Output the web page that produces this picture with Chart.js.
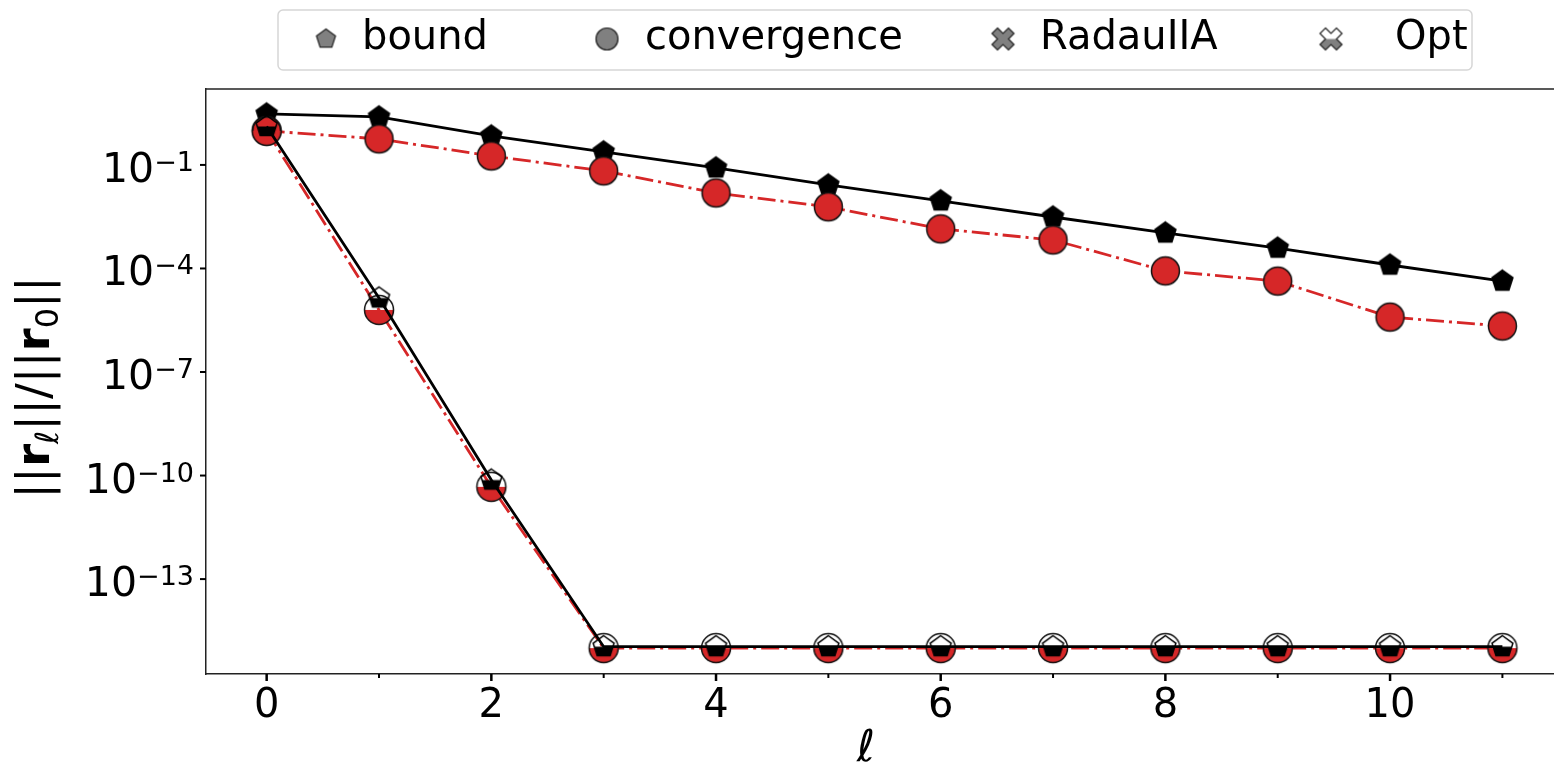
<!DOCTYPE html>
<html lang="en">
<head>
<meta charset="UTF-8">
<title>Residual convergence</title>
<script src="https://cdn.jsdelivr.net/npm/chart.js"></script>
<style>
  html, body { margin: 0; padding: 0; background: #fff; overflow: hidden; }
  canvas { display: block; }
</style>
</head>
<body>
<canvas id="chart" width="1563" height="767"></canvas>
<script>
// iteration index
const ell = [0, 1, 2, 3, 4, 5, 6, 7, 8, 9, 10, 11];

// RadauIIA: bound and measured convergence
const boundRadau = [3.0, 2.46, 0.69, 0.238, 0.082, 0.0263, 0.0091, 0.0031, 0.00107, 3.9e-4, 1.26e-4, 4.3e-5];
const convRadau = [0.97, 0.567, 0.182, 0.067, 0.0154, 0.0061, 0.0014, 6.7e-4, 8.5e-5, 4.3e-5, 3.9e-6, 2.15e-6];

// Opt: bound and measured convergence
const boundOpt = [1.3, 1.4e-5, 7.4e-11, 1.1e-15, 1.1e-15, 1.1e-15, 1.1e-15, 1.1e-15, 1.1e-15, 1.1e-15, 1.1e-15, 1.1e-15];
const convOpt = [0.97, 6.3e-6, 4.7e-11, 1e-15, 1e-15, 1e-15, 1e-15, 1e-15, 1e-15, 1e-15, 1e-15, 1e-15];

const legendNames = ['bound', 'convergence', 'RadauIIA', 'Opt'];
const xTickLabels = ['0', '', '2', '', '4', '', '6', '', '8', '', '10', ''];
const yTickValues = [1e-1, 1e-4, 1e-7, 1e-10, 1e-13];
const yTickExps = ['\u22121', '\u22124', '\u22127', '\u221210', '\u221213'];

const RED = '#d62728';
const GREY = '#808080';

// ---- marker images ----
function markerCanvas(size, paint) {
    const c = document.createElement('canvas');
    c.width = size;
    c.height = size;
    const g = c.getContext('2d');
    g.translate(size / 2, size / 2);
    paint(g);
    return c;
}
function pentagonPath(g, r) {
    g.beginPath();
    for (let i = 0; i < 5; i++) {
        const a = -Math.PI / 2 + i * 2 * Math.PI / 5;
        g.lineTo(r * Math.cos(a), r * Math.sin(a));
    }
    g.closePath();
}
function circlePath(g, r) {
    g.beginPath();
    g.arc(0, 0, r, 0, 2 * Math.PI);
}
function xPath(g, s) {
    const p = [[-1, -2], [0, -1], [1, -2], [2, -1], [1, 0], [2, 1], [1, 2], [0, 1], [-1, 2], [-2, 1], [-1, 0], [-2, -1]];
    g.beginPath();
    p.forEach(([a, b]) => g.lineTo(a * s / 4, b * s / 4));
    g.closePath();
}
function marker(pathFn, r, fill, edge, lw, bottomOnly) {
    return markerCanvas(Math.ceil(2 * r + 2 * lw + 4), g => {
        if (bottomOnly) {
            g.save();
            pathFn(g, r);
            g.clip();
            g.fillStyle = fill;
            g.fillRect(-r - 5, 0, 2 * r + 10, r + 5);
            g.restore();
        } else {
            pathFn(g, r);
            g.fillStyle = fill;
            g.fill();
        }
        pathFn(g, r);
        g.lineWidth = lw;
        g.strokeStyle = edge;
        g.lineJoin = 'miter';
        g.stroke();
    });
}

const pentaFull = marker(pentagonPath, 11, '#000', '#000', 1.5, false);
const pentaHalf = marker(pentagonPath, 11, '#000', '#000', 1.5, true);
const circFull = marker(circlePath, 14, RED, '#111', 1.5, false);
const circHalf = marker(circlePath, 14.5, RED, '#111', 1.5, true);

const legendMarkers = [
    marker(pentagonPath, 10, GREY, '#222', 1.2, false),
    marker(circlePath, 11, GREY, '#222', 1.2, false),
    marker(xPath, 22, GREY, '#222', 1.2, false),
    marker(xPath, 22, GREY, '#222', 1.2, true)
];
const legendMarkerX = [326, 607, 1003, 1331];
const legendTextX = [362, 645, 1040, 1395];

function pts(arr) {
    return ell.map((x, i) => ({ x: x, y: arr[i] }));
}

// ---- extra drawing: frame, ticks, tick labels, axis titles, legend ----
function drawRich(ctx, parts) {
    let total = 0;
    parts.forEach(p => { ctx.font = p.font; p.w = ctx.measureText(p.t).width; total += p.w; });
    let x = -total / 2;
    parts.forEach(p => {
        ctx.font = p.font;
        ctx.fillText(p.t, x, p.dy || 0);
        x += p.w;
    });
}

const decor = {
    id: 'decor',
    afterDraw(chart) {
        const ctx = chart.ctx;
        const a = chart.chartArea;
        const xs = chart.scales.x;
        const ys = chart.scales.y;
        ctx.save();

        // top frame line
        ctx.strokeStyle = '#222';
        ctx.lineWidth = 1.5;
        ctx.beginPath();
        ctx.moveTo(a.left, a.top);
        ctx.lineTo(a.right, a.top);
        ctx.stroke();

        // tick marks
        ctx.strokeStyle = '#000';
        ell.forEach(v => {
            const px = xs.getPixelForValue(v);
            const major = v % 2 === 0;
            ctx.lineWidth = major ? 2.5 : 2;
            ctx.beginPath();
            ctx.moveTo(px, a.bottom);
            ctx.lineTo(px, a.bottom + (major ? 7 : 4));
            ctx.stroke();
        });
        ctx.fillStyle = '#000';
        ctx.textAlign = 'left';
        ctx.textBaseline = 'alphabetic';
        yTickValues.forEach((v, i) => {
            const py = ys.getPixelForValue(v);
            ctx.lineWidth = 2;
            ctx.beginPath();
            ctx.moveTo(a.left - 6, py);
            ctx.lineTo(a.left, py);
            ctx.stroke();
            // label 10^k
            ctx.font = '41px "DejaVu Sans"';
            const wb = ctx.measureText('10').width;
            ctx.font = '27px "DejaVu Sans"';
            const we = ctx.measureText(yTickExps[i]).width;
            const x0 = 194 - wb - we;
            const base = py + 17;
            ctx.font = '41px "DejaVu Sans"';
            ctx.fillText('10', x0, base);
            ctx.font = '27px "DejaVu Sans"';
            ctx.fillText(yTickExps[i], x0 + wb, base - 11);
        });

        // y-axis title
        ctx.save();
        ctx.translate(49, (a.top + a.bottom) / 2 + 6);
        ctx.rotate(-Math.PI / 2);
        const n = '47px "DejaVu Sans"';
        const b = 'bold 47px "DejaVu Sans"';
        const s = '32px "DejaVu Sans"';
        const si = 'italic 32px "DejaVu Sans"';
        drawRich(ctx, [
            { t: '||', font: n }, { t: 'r', font: b }, { t: 'ℓ', font: si, dy: 9 },
            { t: '||/||', font: n }, { t: 'r', font: b }, { t: '0', font: s, dy: 9 },
            { t: '||', font: n }
        ]);
        ctx.restore();

        // x-axis title
        ctx.font = 'italic 44px "DejaVu Sans"';
        ctx.textAlign = 'center';
        ctx.fillText('ℓ', 866, 761);

        // legend
        const boxL = 278, boxR = 1472, boxT = 10, boxB = 70;
        ctx.beginPath();
        ctx.roundRect(boxL, boxT, boxR - boxL, boxB - boxT, 5);
        ctx.fillStyle = 'rgba(255,255,255,0.8)';
        ctx.fill();
        ctx.strokeStyle = '#d6d6d6';
        ctx.lineWidth = 1.5;
        ctx.stroke();
        ctx.fillStyle = '#000';
        ctx.font = '40px "DejaVu Sans"';
        ctx.textAlign = 'left';
        ctx.textBaseline = 'middle';
        const cy = 39;
        legendNames.forEach((name, i) => {
            const m = legendMarkers[i];
            ctx.drawImage(m, legendMarkerX[i] - m.width / 2, cy - m.height / 2);
            ctx.fillText(name, legendTextX[i], cy);
        });
        ctx.restore();
    }
};

const lineW = 2.8;
const dashDot = [18, 5, 3, 5];

new Chart(document.getElementById('chart'), {
    type: 'line',
    data: {
        datasets: [
            { label: 'bound Opt', data: pts(boundOpt), borderColor: '#000', borderWidth: lineW, pointStyle: pentaHalf, order: 0 },
            { label: 'convergence Opt', data: pts(convOpt), borderColor: RED, borderWidth: lineW, borderDash: dashDot, pointStyle: circHalf, order: 1 },
            { label: 'convergence RadauIIA', data: pts(convRadau), borderColor: RED, borderWidth: lineW, borderDash: dashDot, pointStyle: circFull, order: 2 },
            { label: 'bound RadauIIA', data: pts(boundRadau), borderColor: '#000', borderWidth: lineW, pointStyle: pentaFull, order: 3 }
        ]
    },
    options: {
        responsive: false,
        animation: false,
        events: [],
        clip: false,
        layout: { padding: { top: 89, left: 0, right: 0, bottom: 0 } },
        plugins: { legend: { display: false }, tooltip: { enabled: false } },
        elements: { line: { tension: 0 }, point: { radius: 5 } },
        scales: {
            x: {
                type: 'linear',
                min: -0.54,
                max: 11.47,
                afterBuildTicks: sc => { sc.ticks = ell.map(v => ({ value: v })); },
                afterFit: sc => { sc.height = 93; sc.paddingRight = 0; sc.paddingLeft = 0; },
                ticks: {
                    callback: (v, i) => xTickLabels[i],
                    font: { family: 'DejaVu Sans', size: 40 },
                    color: '#000',
                    padding: 9,
                    maxRotation: 0,
                    autoSkip: false
                },
                grid: { display: false, drawTicks: false },
                border: { display: true, color: '#222', width: 1.5 }
            },
            y: {
                type: 'logarithmic',
                min: Math.pow(10, -15.75),
                max: Math.pow(10, 1.2),
                afterBuildTicks: sc => { sc.ticks = yTickValues.map(v => ({ value: v })); },
                afterFit: sc => { sc.width = 206; },
                ticks: { display: false },
                grid: { display: false, drawTicks: false },
                border: { display: true, color: '#222', width: 1.5 }
            }
        }
    },
    plugins: [decor]
});
</script>
</body>
</html>
